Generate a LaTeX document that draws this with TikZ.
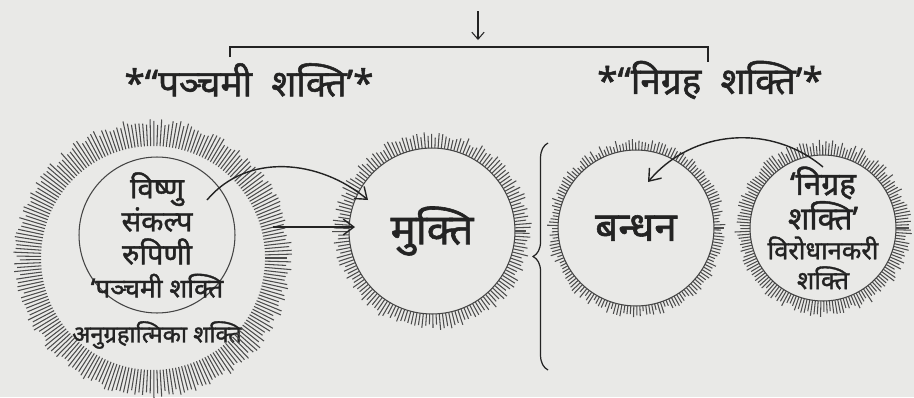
\documentclass[tikz,border=0pt]{standalone}
\usepackage{fontspec}
\newfontfamily\deva[Script=Devanagari, FakeBold=1.4]{Noto Sans}
\usetikzlibrary{arrows.meta, decorations.pathreplacing}

\definecolor{paper}{RGB}{233,233,231}
\definecolor{ink}{RGB}{35,35,35}

\begin{document}
\begin{tikzpicture}[x=0.02cm, y=0.02cm, font=\deva,
  spike/.style={gray!60!black, line width=0.6pt},
  rim/.style={circle, draw=ink!85, line width=0.6pt, inner sep=0pt},
  bare/.style={circle, inner sep=0pt},
  arr/.style={ink, line width=0.8pt, -{Straight Barb[length=6pt, width=9pt]}},
  toptxt/.style={text=ink, font=\deva\fontsize{21}{24}\selectfont},
  intxt/.style={text=ink, align=center, font=\deva\fontsize{14}{18.5}\selectfont},
  bigtxt/.style={text=ink, font=\deva\fontsize{24}{28}\selectfont}]
  \fill[paper] (0,0) rectangle (914,397);
  \useasboundingbox (0,0) rectangle (914,397);

  % circles
  \node[bare, minimum size=4.48cm] (anugraha) at (153,139) {};
  \node[rim, minimum size=3.12cm] (vishnu) at (157,162) {};
  \node[intxt, font=\deva\fontsize{16.5}{18.8}\selectfont] (vishnutxt) at (vishnu.center)
    {विष्णु\\संकल्प\\रुपिणी\\{\fontsize{15}{18.8}\selectfont ‘पञ्चमी शक्ति}};
  \node[intxt, font=\deva\fontsize{13.5}{16}\selectfont] (anulbl) at (157,62) {अनुग्रहात्मिका शक्ति};
  \node[rim, minimum size=3.32cm, bigtxt] (mukti) at (432,166) {मुक्ति};
  \node[rim, minimum size=3.12cm, bigtxt, font=\deva\fontsize{23}{27}\selectfont] (bandhan) at (636,169) {बन्धन};
  \node[rim, minimum size=2.92cm] (nigraha) at (823,169) {};
  \node[intxt, font=\deva\fontsize{14.5}{17}\selectfont] (nigrahatxt) at (nigraha.center)
    {{\fontsize{18}{17}\selectfont ‘निग्रह}\\{\fontsize{18}{17}\selectfont शक्ति’}\\विरोधानकरी\\शक्ति};

  % spikes round the circles
  \pgfmathsetseed{7}
  \foreach \n/\ri/\ro/\st in {anugraha/112/140/1.6, mukti/83/100/2.2, bandhan/78/90/2.2, nigraha/73/89/2.2} {
    \foreach \a in {0,\st,...,359} {
      \pgfmathsetmacro{\dl}{\ro-\ri-rnd*7}
      \draw[spike] (\n.center) ++(\a:\ri) -- ++(\a:\dl);
    }
  }

  % top labels and bracket
  \node[toptxt] (plbl) at (249,317) {*“पञ्चमी\ \ शक्ति’*};
  \node[toptxt] (nlbl) at (710,317) {*“निग्रह\ \ शक्ति’*};
  \coordinate (top) at (478,386);
  \coordinate (arrtip) at (478,357);
  \coordinate (barmid) at (478,350);
  \coordinate (bl) at (230,340);
  \coordinate (br) at (708,335);
  \draw[ink, line width=0.7pt] (bl) |- (barmid) -| (br);
  \draw[ink, line width=0.6pt, -{Straight Barb[length=4pt, width=7pt]}] (top) -- (arrtip);

  % arrows
  \coordinate (vs) at (207,197);
  \coordinate (mktip) at (368,197);
  \draw[arr] (vs) to[out=50, in=140] (mktip);
  \coordinate (hs) at (273,170);
  \coordinate (ht) at (355,170);
  \draw[arr] (hs) -- (ht);
  \coordinate (ns) at (823,230);
  \coordinate (bdtip) at (648,215);
  \draw[arr] (ns) to[out=140, in=50] (bdtip);

  % brace
  \draw[ink, line width=0.7pt, decorate, decoration={brace, amplitude=8.5pt}] (548,27) -- (548,254);
\end{tikzpicture}
\end{document}
